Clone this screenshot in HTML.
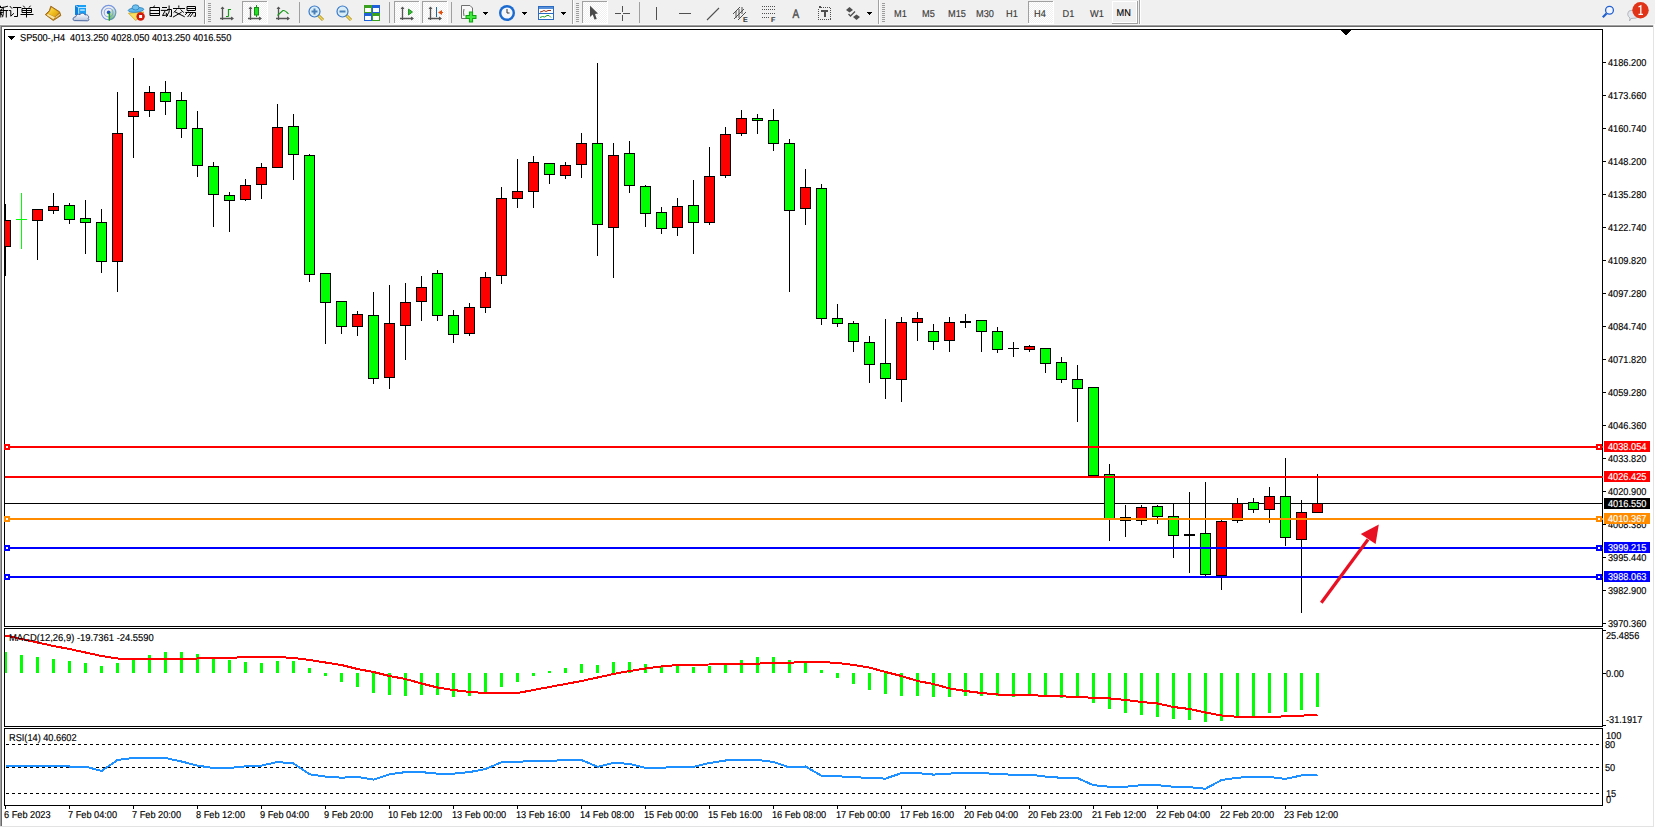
<!DOCTYPE html>
<html><head><meta charset="utf-8"><style>
html,body{margin:0;padding:0;width:1655px;height:828px;overflow:hidden;background:#f0f0f0}
svg{position:absolute;left:0;top:0;display:block}
text{font-family:'Liberation Sans',sans-serif}
</style></head><body>
<svg width="1655" height="828" viewBox="0 0 1655 828" shape-rendering="crispEdges" text-rendering="geometricPrecision">
<rect x="0" y="0" width="1655" height="828" fill="#f0f0f0"/>
<rect x="2" y="27" width="1651" height="799" fill="#fff"/>
<rect x="0" y="24" width="1655" height="1" fill="#f7f7f7"/>
<rect x="0" y="25" width="1654" height="1" fill="#a0a0a0"/>
<rect x="1" y="26" width="1652" height="1" fill="#696969"/>
<rect x="0" y="25" width="1" height="802" fill="#a0a0a0"/>
<rect x="1" y="26" width="1" height="800" fill="#696969"/>
<rect x="1653" y="25" width="1" height="802" fill="#e3e3e3"/>
<rect x="0" y="826" width="1654" height="1" fill="#e3e3e3"/>
<rect x="1654" y="24" width="1" height="804" fill="#ffffff"/>
<rect x="0" y="827" width="1655" height="1" fill="#ffffff"/>
<rect x="4" y="29" width="1599" height="1" fill="#000"/>
<rect x="4" y="626" width="1599" height="1" fill="#000"/>
<rect x="4" y="29" width="1" height="598" fill="#000"/>
<rect x="1602" y="29" width="1" height="598" fill="#000"/>
<rect x="4" y="628" width="1599" height="1" fill="#000"/>
<rect x="4" y="726" width="1599" height="1" fill="#000"/>
<rect x="4" y="628" width="1" height="99" fill="#000"/>
<rect x="1602" y="628" width="1" height="99" fill="#000"/>
<rect x="4" y="728" width="1599" height="1" fill="#000"/>
<rect x="4" y="805" width="1599" height="1" fill="#000"/>
<rect x="4" y="728" width="1" height="78" fill="#000"/>
<rect x="1602" y="728" width="1" height="78" fill="#000"/>
<defs><clipPath id="cm"><rect x="5" y="30" width="1597" height="596"/></clipPath></defs>
<rect x="5" y="503" width="1598" height="1" fill="#000"/>
<g clip-path="url(#cm)">
<rect x="5" y="204" width="1" height="72" fill="#000"/>
<rect x="0" y="220" width="11" height="27" fill="#000"/>
<rect x="1" y="221" width="9" height="25" fill="#ff0000"/>
<rect x="21" y="193" width="1" height="56" fill="#00ff00"/>
<rect x="16" y="219" width="11" height="1" fill="#00ff00"/>
<rect x="37" y="209" width="1" height="51" fill="#000"/>
<rect x="32" y="209" width="11" height="12" fill="#000"/>
<rect x="33" y="210" width="9" height="10" fill="#ff0000"/>
<rect x="53" y="193" width="1" height="21" fill="#000"/>
<rect x="48" y="206" width="11" height="5" fill="#000"/>
<rect x="49" y="207" width="9" height="3" fill="#ff0000"/>
<rect x="69" y="203" width="1" height="21" fill="#000"/>
<rect x="64" y="205" width="11" height="15" fill="#000"/>
<rect x="65" y="206" width="9" height="13" fill="#00ff00"/>
<rect x="85" y="200" width="1" height="54" fill="#000"/>
<rect x="80" y="218" width="11" height="5" fill="#000"/>
<rect x="81" y="219" width="9" height="3" fill="#00ff00"/>
<rect x="101" y="209" width="1" height="64" fill="#000"/>
<rect x="96" y="222" width="11" height="40" fill="#000"/>
<rect x="97" y="223" width="9" height="38" fill="#00ff00"/>
<rect x="117" y="92" width="1" height="200" fill="#000"/>
<rect x="112" y="133" width="11" height="129" fill="#000"/>
<rect x="113" y="134" width="9" height="127" fill="#ff0000"/>
<rect x="133" y="58" width="1" height="100" fill="#000"/>
<rect x="128" y="111" width="11" height="6" fill="#000"/>
<rect x="129" y="112" width="9" height="4" fill="#ff0000"/>
<rect x="149" y="86" width="1" height="31" fill="#000"/>
<rect x="144" y="92" width="11" height="19" fill="#000"/>
<rect x="145" y="93" width="9" height="17" fill="#ff0000"/>
<rect x="165" y="81" width="1" height="34" fill="#000"/>
<rect x="160" y="92" width="11" height="10" fill="#000"/>
<rect x="161" y="93" width="9" height="8" fill="#00ff00"/>
<rect x="181" y="92" width="1" height="46" fill="#000"/>
<rect x="176" y="100" width="11" height="29" fill="#000"/>
<rect x="177" y="101" width="9" height="27" fill="#00ff00"/>
<rect x="197" y="111" width="1" height="66" fill="#000"/>
<rect x="192" y="128" width="11" height="38" fill="#000"/>
<rect x="193" y="129" width="9" height="36" fill="#00ff00"/>
<rect x="213" y="162" width="1" height="65" fill="#000"/>
<rect x="208" y="166" width="11" height="29" fill="#000"/>
<rect x="209" y="167" width="9" height="27" fill="#00ff00"/>
<rect x="229" y="192" width="1" height="40" fill="#000"/>
<rect x="224" y="195" width="11" height="6" fill="#000"/>
<rect x="225" y="196" width="9" height="4" fill="#00ff00"/>
<rect x="245" y="179" width="1" height="22" fill="#000"/>
<rect x="240" y="185" width="11" height="15" fill="#000"/>
<rect x="241" y="186" width="9" height="13" fill="#ff0000"/>
<rect x="261" y="163" width="1" height="36" fill="#000"/>
<rect x="256" y="167" width="11" height="18" fill="#000"/>
<rect x="257" y="168" width="9" height="16" fill="#ff0000"/>
<rect x="277" y="104" width="1" height="64" fill="#000"/>
<rect x="272" y="127" width="11" height="41" fill="#000"/>
<rect x="273" y="128" width="9" height="39" fill="#ff0000"/>
<rect x="293" y="114" width="1" height="66" fill="#000"/>
<rect x="288" y="126" width="11" height="29" fill="#000"/>
<rect x="289" y="127" width="9" height="27" fill="#00ff00"/>
<rect x="309" y="154" width="1" height="128" fill="#000"/>
<rect x="304" y="155" width="11" height="120" fill="#000"/>
<rect x="305" y="156" width="9" height="118" fill="#00ff00"/>
<rect x="325" y="273" width="1" height="71" fill="#000"/>
<rect x="320" y="273" width="11" height="30" fill="#000"/>
<rect x="321" y="274" width="9" height="28" fill="#00ff00"/>
<rect x="341" y="301" width="1" height="33" fill="#000"/>
<rect x="336" y="301" width="11" height="26" fill="#000"/>
<rect x="337" y="302" width="9" height="24" fill="#00ff00"/>
<rect x="357" y="311" width="1" height="25" fill="#000"/>
<rect x="352" y="314" width="11" height="13" fill="#000"/>
<rect x="353" y="315" width="9" height="11" fill="#ff0000"/>
<rect x="373" y="292" width="1" height="92" fill="#000"/>
<rect x="368" y="315" width="11" height="64" fill="#000"/>
<rect x="369" y="316" width="9" height="62" fill="#00ff00"/>
<rect x="389" y="285" width="1" height="104" fill="#000"/>
<rect x="384" y="323" width="11" height="55" fill="#000"/>
<rect x="385" y="324" width="9" height="53" fill="#ff0000"/>
<rect x="405" y="283" width="1" height="77" fill="#000"/>
<rect x="400" y="302" width="11" height="24" fill="#000"/>
<rect x="401" y="303" width="9" height="22" fill="#ff0000"/>
<rect x="421" y="276" width="1" height="45" fill="#000"/>
<rect x="416" y="287" width="11" height="15" fill="#000"/>
<rect x="417" y="288" width="9" height="13" fill="#ff0000"/>
<rect x="437" y="270" width="1" height="51" fill="#000"/>
<rect x="432" y="273" width="11" height="43" fill="#000"/>
<rect x="433" y="274" width="9" height="41" fill="#00ff00"/>
<rect x="453" y="310" width="1" height="33" fill="#000"/>
<rect x="448" y="315" width="11" height="20" fill="#000"/>
<rect x="449" y="316" width="9" height="18" fill="#00ff00"/>
<rect x="469" y="303" width="1" height="33" fill="#000"/>
<rect x="464" y="307" width="11" height="27" fill="#000"/>
<rect x="465" y="308" width="9" height="25" fill="#ff0000"/>
<rect x="485" y="272" width="1" height="41" fill="#000"/>
<rect x="480" y="277" width="11" height="31" fill="#000"/>
<rect x="481" y="278" width="9" height="29" fill="#ff0000"/>
<rect x="501" y="187" width="1" height="97" fill="#000"/>
<rect x="496" y="198" width="11" height="78" fill="#000"/>
<rect x="497" y="199" width="9" height="76" fill="#ff0000"/>
<rect x="517" y="159" width="1" height="49" fill="#000"/>
<rect x="512" y="191" width="11" height="8" fill="#000"/>
<rect x="513" y="192" width="9" height="6" fill="#ff0000"/>
<rect x="533" y="156" width="1" height="52" fill="#000"/>
<rect x="528" y="162" width="11" height="30" fill="#000"/>
<rect x="529" y="163" width="9" height="28" fill="#ff0000"/>
<rect x="549" y="163" width="1" height="21" fill="#000"/>
<rect x="544" y="163" width="11" height="12" fill="#000"/>
<rect x="545" y="164" width="9" height="10" fill="#00ff00"/>
<rect x="565" y="162" width="1" height="17" fill="#000"/>
<rect x="560" y="165" width="11" height="11" fill="#000"/>
<rect x="561" y="166" width="9" height="9" fill="#ff0000"/>
<rect x="581" y="133" width="1" height="45" fill="#000"/>
<rect x="576" y="143" width="11" height="22" fill="#000"/>
<rect x="577" y="144" width="9" height="20" fill="#ff0000"/>
<rect x="597" y="63" width="1" height="193" fill="#000"/>
<rect x="592" y="143" width="11" height="82" fill="#000"/>
<rect x="593" y="144" width="9" height="80" fill="#00ff00"/>
<rect x="613" y="143" width="1" height="135" fill="#000"/>
<rect x="608" y="155" width="11" height="73" fill="#000"/>
<rect x="609" y="156" width="9" height="71" fill="#ff0000"/>
<rect x="629" y="141" width="1" height="52" fill="#000"/>
<rect x="624" y="153" width="11" height="33" fill="#000"/>
<rect x="625" y="154" width="9" height="31" fill="#00ff00"/>
<rect x="645" y="185" width="1" height="42" fill="#000"/>
<rect x="640" y="186" width="11" height="28" fill="#000"/>
<rect x="641" y="187" width="9" height="26" fill="#00ff00"/>
<rect x="661" y="207" width="1" height="27" fill="#000"/>
<rect x="656" y="212" width="11" height="17" fill="#000"/>
<rect x="657" y="213" width="9" height="15" fill="#00ff00"/>
<rect x="677" y="198" width="1" height="38" fill="#000"/>
<rect x="672" y="206" width="11" height="22" fill="#000"/>
<rect x="673" y="207" width="9" height="20" fill="#ff0000"/>
<rect x="693" y="180" width="1" height="74" fill="#000"/>
<rect x="688" y="205" width="11" height="18" fill="#000"/>
<rect x="689" y="206" width="9" height="16" fill="#00ff00"/>
<rect x="709" y="147" width="1" height="78" fill="#000"/>
<rect x="704" y="176" width="11" height="47" fill="#000"/>
<rect x="705" y="177" width="9" height="45" fill="#ff0000"/>
<rect x="725" y="127" width="1" height="51" fill="#000"/>
<rect x="720" y="134" width="11" height="42" fill="#000"/>
<rect x="721" y="135" width="9" height="40" fill="#ff0000"/>
<rect x="741" y="110" width="1" height="26" fill="#000"/>
<rect x="736" y="118" width="11" height="16" fill="#000"/>
<rect x="737" y="119" width="9" height="14" fill="#ff0000"/>
<rect x="757" y="114" width="1" height="20" fill="#000"/>
<rect x="752" y="118" width="11" height="3" fill="#000"/>
<rect x="753" y="119" width="9" height="1" fill="#00ff00"/>
<rect x="773" y="109" width="1" height="42" fill="#000"/>
<rect x="768" y="120" width="11" height="24" fill="#000"/>
<rect x="769" y="121" width="9" height="22" fill="#00ff00"/>
<rect x="789" y="139" width="1" height="153" fill="#000"/>
<rect x="784" y="143" width="11" height="68" fill="#000"/>
<rect x="785" y="144" width="9" height="66" fill="#00ff00"/>
<rect x="805" y="169" width="1" height="56" fill="#000"/>
<rect x="800" y="187" width="11" height="22" fill="#000"/>
<rect x="801" y="188" width="9" height="20" fill="#ff0000"/>
<rect x="821" y="184" width="1" height="141" fill="#000"/>
<rect x="816" y="188" width="11" height="131" fill="#000"/>
<rect x="817" y="189" width="9" height="129" fill="#00ff00"/>
<rect x="837" y="304" width="1" height="23" fill="#000"/>
<rect x="832" y="318" width="11" height="6" fill="#000"/>
<rect x="833" y="319" width="9" height="4" fill="#00ff00"/>
<rect x="853" y="321" width="1" height="31" fill="#000"/>
<rect x="848" y="323" width="11" height="19" fill="#000"/>
<rect x="849" y="324" width="9" height="17" fill="#00ff00"/>
<rect x="869" y="336" width="1" height="47" fill="#000"/>
<rect x="864" y="342" width="11" height="23" fill="#000"/>
<rect x="865" y="343" width="9" height="21" fill="#00ff00"/>
<rect x="885" y="319" width="1" height="80" fill="#000"/>
<rect x="880" y="363" width="11" height="16" fill="#000"/>
<rect x="881" y="364" width="9" height="14" fill="#00ff00"/>
<rect x="901" y="317" width="1" height="85" fill="#000"/>
<rect x="896" y="322" width="11" height="58" fill="#000"/>
<rect x="897" y="323" width="9" height="56" fill="#ff0000"/>
<rect x="917" y="312" width="1" height="29" fill="#000"/>
<rect x="912" y="318" width="11" height="5" fill="#000"/>
<rect x="913" y="319" width="9" height="3" fill="#ff0000"/>
<rect x="933" y="324" width="1" height="26" fill="#000"/>
<rect x="928" y="331" width="11" height="11" fill="#000"/>
<rect x="929" y="332" width="9" height="9" fill="#00ff00"/>
<rect x="949" y="317" width="1" height="35" fill="#000"/>
<rect x="944" y="322" width="11" height="19" fill="#000"/>
<rect x="945" y="323" width="9" height="17" fill="#ff0000"/>
<rect x="965" y="314" width="1" height="14" fill="#000"/>
<rect x="960" y="321" width="11" height="2" fill="#000"/>
<rect x="981" y="320" width="1" height="32" fill="#000"/>
<rect x="976" y="320" width="11" height="12" fill="#000"/>
<rect x="977" y="321" width="9" height="10" fill="#00ff00"/>
<rect x="997" y="327" width="1" height="26" fill="#000"/>
<rect x="992" y="331" width="11" height="19" fill="#000"/>
<rect x="993" y="332" width="9" height="17" fill="#00ff00"/>
<rect x="1013" y="342" width="1" height="15" fill="#000"/>
<rect x="1008" y="348" width="11" height="1" fill="#000"/>
<rect x="1029" y="345" width="1" height="7" fill="#000"/>
<rect x="1024" y="346" width="11" height="4" fill="#000"/>
<rect x="1025" y="347" width="9" height="2" fill="#ff0000"/>
<rect x="1045" y="348" width="1" height="25" fill="#000"/>
<rect x="1040" y="348" width="11" height="16" fill="#000"/>
<rect x="1041" y="349" width="9" height="14" fill="#00ff00"/>
<rect x="1061" y="357" width="1" height="26" fill="#000"/>
<rect x="1056" y="362" width="11" height="18" fill="#000"/>
<rect x="1057" y="363" width="9" height="16" fill="#00ff00"/>
<rect x="1077" y="365" width="1" height="57" fill="#000"/>
<rect x="1072" y="379" width="11" height="10" fill="#000"/>
<rect x="1073" y="380" width="9" height="8" fill="#00ff00"/>
<rect x="1093" y="387" width="1" height="89" fill="#000"/>
<rect x="1088" y="387" width="11" height="89" fill="#000"/>
<rect x="1089" y="388" width="9" height="87" fill="#00ff00"/>
<rect x="1109" y="464" width="1" height="77" fill="#000"/>
<rect x="1104" y="474" width="11" height="45" fill="#000"/>
<rect x="1105" y="475" width="9" height="43" fill="#00ff00"/>
<rect x="1125" y="505" width="1" height="32" fill="#000"/>
<rect x="1120" y="517" width="11" height="4" fill="#000"/>
<rect x="1121" y="518" width="9" height="2" fill="#00ff00"/>
<rect x="1141" y="505" width="1" height="20" fill="#000"/>
<rect x="1136" y="507" width="11" height="14" fill="#000"/>
<rect x="1137" y="508" width="9" height="12" fill="#ff0000"/>
<rect x="1157" y="505" width="1" height="19" fill="#000"/>
<rect x="1152" y="506" width="11" height="11" fill="#000"/>
<rect x="1153" y="507" width="9" height="9" fill="#00ff00"/>
<rect x="1173" y="503" width="1" height="55" fill="#000"/>
<rect x="1168" y="516" width="11" height="20" fill="#000"/>
<rect x="1169" y="517" width="9" height="18" fill="#00ff00"/>
<rect x="1189" y="492" width="1" height="81" fill="#000"/>
<rect x="1184" y="534" width="11" height="2" fill="#000"/>
<rect x="1205" y="482" width="1" height="95" fill="#000"/>
<rect x="1200" y="533" width="11" height="42" fill="#000"/>
<rect x="1201" y="534" width="9" height="40" fill="#00ff00"/>
<rect x="1221" y="520" width="1" height="70" fill="#000"/>
<rect x="1216" y="521" width="11" height="55" fill="#000"/>
<rect x="1217" y="522" width="9" height="53" fill="#ff0000"/>
<rect x="1237" y="498" width="1" height="25" fill="#000"/>
<rect x="1232" y="503" width="11" height="18" fill="#000"/>
<rect x="1233" y="504" width="9" height="16" fill="#ff0000"/>
<rect x="1253" y="498" width="1" height="15" fill="#000"/>
<rect x="1248" y="502" width="11" height="8" fill="#000"/>
<rect x="1249" y="503" width="9" height="6" fill="#00ff00"/>
<rect x="1269" y="487" width="1" height="36" fill="#000"/>
<rect x="1264" y="496" width="11" height="14" fill="#000"/>
<rect x="1265" y="497" width="9" height="12" fill="#ff0000"/>
<rect x="1285" y="458" width="1" height="88" fill="#000"/>
<rect x="1280" y="496" width="11" height="42" fill="#000"/>
<rect x="1281" y="497" width="9" height="40" fill="#00ff00"/>
<rect x="1301" y="500" width="1" height="113" fill="#000"/>
<rect x="1296" y="512" width="11" height="28" fill="#000"/>
<rect x="1297" y="513" width="9" height="26" fill="#ff0000"/>
<rect x="1317" y="474" width="1" height="39" fill="#000"/>
<rect x="1312" y="503" width="11" height="10" fill="#000"/>
<rect x="1313" y="504" width="9" height="8" fill="#ff0000"/>
</g>
<rect x="5" y="446" width="1598" height="2" fill="#ff0000"/>
<rect x="4" y="444" width="6" height="6" fill="#ff0000"/>
<rect x="6" y="446" width="2" height="2" fill="#fff"/>
<rect x="1596" y="444" width="6" height="6" fill="#ff0000"/>
<rect x="1598" y="446" width="2" height="2" fill="#fff"/>
<rect x="5" y="476" width="1598" height="2" fill="#ff0000"/>
<rect x="5" y="518" width="1598" height="2" fill="#ff8c00"/>
<rect x="4" y="516" width="6" height="6" fill="#ff8c00"/>
<rect x="6" y="518" width="2" height="2" fill="#fff"/>
<rect x="1596" y="516" width="6" height="6" fill="#ff8c00"/>
<rect x="1598" y="518" width="2" height="2" fill="#fff"/>
<rect x="5" y="547" width="1598" height="2" fill="#0000ff"/>
<rect x="4" y="545" width="6" height="6" fill="#0000ff"/>
<rect x="6" y="547" width="2" height="2" fill="#fff"/>
<rect x="1596" y="545" width="6" height="6" fill="#0000ff"/>
<rect x="1598" y="547" width="2" height="2" fill="#fff"/>
<rect x="5" y="576" width="1598" height="2" fill="#0000ff"/>
<rect x="4" y="574" width="6" height="6" fill="#0000ff"/>
<rect x="6" y="576" width="2" height="2" fill="#fff"/>
<rect x="1596" y="574" width="6" height="6" fill="#0000ff"/>
<rect x="1598" y="576" width="2" height="2" fill="#fff"/>
<line x1="1321.3" y1="602.8" x2="1368" y2="539.5" stroke="#e81123" stroke-width="3.2" shape-rendering="geometricPrecision"/>
<polygon points="1378.8,524.5 1360.8,534 1375.6,544" fill="#e81123" shape-rendering="geometricPrecision"/>
<polygon points="1340.5,30 1351.5,30 1346,35.5" fill="#000"/>
<polygon points="8,36 15,36 11.5,40" fill="#000"/>
<text transform="translate(20,41) scale(0.92,1)" font-size="10" fill="#000" stroke="#000" stroke-width="0.15" xml:space="preserve" >SP500-,H4  4013.250 4028.050 4013.250 4016.550</text>
<rect x="1603" y="62" width="3" height="1" fill="#000"/>
<text transform="translate(1608,66) scale(0.92,1)" font-size="10" fill="#000" stroke="#000" stroke-width="0.15" xml:space="preserve" >4186.200</text>
<rect x="1603" y="95" width="3" height="1" fill="#000"/>
<text transform="translate(1608,99) scale(0.92,1)" font-size="10" fill="#000" stroke="#000" stroke-width="0.15" xml:space="preserve" >4173.660</text>
<rect x="1603" y="128" width="3" height="1" fill="#000"/>
<text transform="translate(1608,132) scale(0.92,1)" font-size="10" fill="#000" stroke="#000" stroke-width="0.15" xml:space="preserve" >4160.740</text>
<rect x="1603" y="161" width="3" height="1" fill="#000"/>
<text transform="translate(1608,165) scale(0.92,1)" font-size="10" fill="#000" stroke="#000" stroke-width="0.15" xml:space="preserve" >4148.200</text>
<rect x="1603" y="194" width="3" height="1" fill="#000"/>
<text transform="translate(1608,198) scale(0.92,1)" font-size="10" fill="#000" stroke="#000" stroke-width="0.15" xml:space="preserve" >4135.280</text>
<rect x="1603" y="227" width="3" height="1" fill="#000"/>
<text transform="translate(1608,231) scale(0.92,1)" font-size="10" fill="#000" stroke="#000" stroke-width="0.15" xml:space="preserve" >4122.740</text>
<rect x="1603" y="260" width="3" height="1" fill="#000"/>
<text transform="translate(1608,264) scale(0.92,1)" font-size="10" fill="#000" stroke="#000" stroke-width="0.15" xml:space="preserve" >4109.820</text>
<rect x="1603" y="293" width="3" height="1" fill="#000"/>
<text transform="translate(1608,297) scale(0.92,1)" font-size="10" fill="#000" stroke="#000" stroke-width="0.15" xml:space="preserve" >4097.280</text>
<rect x="1603" y="326" width="3" height="1" fill="#000"/>
<text transform="translate(1608,330) scale(0.92,1)" font-size="10" fill="#000" stroke="#000" stroke-width="0.15" xml:space="preserve" >4084.740</text>
<rect x="1603" y="359" width="3" height="1" fill="#000"/>
<text transform="translate(1608,363) scale(0.92,1)" font-size="10" fill="#000" stroke="#000" stroke-width="0.15" xml:space="preserve" >4071.820</text>
<rect x="1603" y="392" width="3" height="1" fill="#000"/>
<text transform="translate(1608,396) scale(0.92,1)" font-size="10" fill="#000" stroke="#000" stroke-width="0.15" xml:space="preserve" >4059.280</text>
<rect x="1603" y="425" width="3" height="1" fill="#000"/>
<text transform="translate(1608,429) scale(0.92,1)" font-size="10" fill="#000" stroke="#000" stroke-width="0.15" xml:space="preserve" >4046.360</text>
<rect x="1603" y="458" width="3" height="1" fill="#000"/>
<text transform="translate(1608,462) scale(0.92,1)" font-size="10" fill="#000" stroke="#000" stroke-width="0.15" xml:space="preserve" >4033.820</text>
<rect x="1603" y="491" width="3" height="1" fill="#000"/>
<text transform="translate(1608,495) scale(0.92,1)" font-size="10" fill="#000" stroke="#000" stroke-width="0.15" xml:space="preserve" >4020.900</text>
<rect x="1603" y="524" width="3" height="1" fill="#000"/>
<text transform="translate(1608,528) scale(0.92,1)" font-size="10" fill="#000" stroke="#000" stroke-width="0.15" xml:space="preserve" >4008.380</text>
<rect x="1603" y="557" width="3" height="1" fill="#000"/>
<text transform="translate(1608,561) scale(0.92,1)" font-size="10" fill="#000" stroke="#000" stroke-width="0.15" xml:space="preserve" >3995.440</text>
<rect x="1603" y="590" width="3" height="1" fill="#000"/>
<text transform="translate(1608,594) scale(0.92,1)" font-size="10" fill="#000" stroke="#000" stroke-width="0.15" xml:space="preserve" >3982.900</text>
<rect x="1603" y="623" width="3" height="1" fill="#000"/>
<text transform="translate(1608,627) scale(0.92,1)" font-size="10" fill="#000" stroke="#000" stroke-width="0.15" xml:space="preserve" >3970.360</text>
<rect x="1604" y="441" width="46" height="11" fill="#ff0000"/>
<text transform="translate(1608,450) scale(0.92,1)" font-size="10" fill="#fff" stroke="#fff" stroke-width="0.15" xml:space="preserve" >4038.054</text>
<rect x="1604" y="471" width="46" height="11" fill="#ff0000"/>
<text transform="translate(1608,480) scale(0.92,1)" font-size="10" fill="#fff" stroke="#fff" stroke-width="0.15" xml:space="preserve" >4026.425</text>
<rect x="1604" y="498" width="46" height="11" fill="#000000"/>
<text transform="translate(1608,507) scale(0.92,1)" font-size="10" fill="#fff" stroke="#fff" stroke-width="0.15" xml:space="preserve" >4016.550</text>
<rect x="1604" y="513" width="46" height="11" fill="#ff8c00"/>
<text transform="translate(1608,522) scale(0.92,1)" font-size="10" fill="#fff" stroke="#fff" stroke-width="0.15" xml:space="preserve" >4010.367</text>
<rect x="1604" y="542" width="46" height="11" fill="#0000ff"/>
<text transform="translate(1608,551) scale(0.92,1)" font-size="10" fill="#fff" stroke="#fff" stroke-width="0.15" xml:space="preserve" >3999.215</text>
<rect x="1604" y="571" width="46" height="11" fill="#0000ff"/>
<text transform="translate(1608,580) scale(0.92,1)" font-size="10" fill="#fff" stroke="#fff" stroke-width="0.15" xml:space="preserve" >3988.063</text>
<defs><clipPath id="cmacd"><rect x="5" y="629" width="1597" height="97"/></clipPath></defs>
<g clip-path="url(#cmacd)">
<rect x="4" y="652" width="3" height="21" fill="#00ff00"/>
<rect x="20" y="655" width="3" height="18" fill="#00ff00"/>
<rect x="36" y="657" width="3" height="16" fill="#00ff00"/>
<rect x="52" y="659" width="3" height="14" fill="#00ff00"/>
<rect x="68" y="661" width="3" height="12" fill="#00ff00"/>
<rect x="84" y="663" width="3" height="10" fill="#00ff00"/>
<rect x="100" y="666" width="3" height="7" fill="#00ff00"/>
<rect x="116" y="663" width="3" height="10" fill="#00ff00"/>
<rect x="132" y="660" width="3" height="13" fill="#00ff00"/>
<rect x="148" y="655" width="3" height="18" fill="#00ff00"/>
<rect x="164" y="652" width="3" height="21" fill="#00ff00"/>
<rect x="180" y="652" width="3" height="21" fill="#00ff00"/>
<rect x="196" y="654" width="3" height="19" fill="#00ff00"/>
<rect x="212" y="659" width="3" height="14" fill="#00ff00"/>
<rect x="228" y="660" width="3" height="13" fill="#00ff00"/>
<rect x="244" y="662" width="3" height="11" fill="#00ff00"/>
<rect x="260" y="663" width="3" height="10" fill="#00ff00"/>
<rect x="276" y="661" width="3" height="12" fill="#00ff00"/>
<rect x="292" y="661" width="3" height="12" fill="#00ff00"/>
<rect x="308" y="668" width="3" height="5" fill="#00ff00"/>
<rect x="324" y="673" width="3" height="3" fill="#00ff00"/>
<rect x="340" y="673" width="3" height="9" fill="#00ff00"/>
<rect x="356" y="673" width="3" height="14" fill="#00ff00"/>
<rect x="372" y="673" width="3" height="20" fill="#00ff00"/>
<rect x="388" y="673" width="3" height="22" fill="#00ff00"/>
<rect x="404" y="673" width="3" height="23" fill="#00ff00"/>
<rect x="420" y="673" width="3" height="22" fill="#00ff00"/>
<rect x="436" y="673" width="3" height="22" fill="#00ff00"/>
<rect x="452" y="673" width="3" height="24" fill="#00ff00"/>
<rect x="468" y="673" width="3" height="23" fill="#00ff00"/>
<rect x="484" y="673" width="3" height="19" fill="#00ff00"/>
<rect x="500" y="673" width="3" height="14" fill="#00ff00"/>
<rect x="516" y="673" width="3" height="9" fill="#00ff00"/>
<rect x="532" y="673" width="3" height="3" fill="#00ff00"/>
<rect x="548" y="671" width="3" height="2" fill="#00ff00"/>
<rect x="564" y="668" width="3" height="5" fill="#00ff00"/>
<rect x="580" y="664" width="3" height="9" fill="#00ff00"/>
<rect x="596" y="665" width="3" height="8" fill="#00ff00"/>
<rect x="612" y="662" width="3" height="11" fill="#00ff00"/>
<rect x="628" y="662" width="3" height="11" fill="#00ff00"/>
<rect x="644" y="664" width="3" height="9" fill="#00ff00"/>
<rect x="660" y="666" width="3" height="7" fill="#00ff00"/>
<rect x="676" y="666" width="3" height="7" fill="#00ff00"/>
<rect x="692" y="667" width="3" height="6" fill="#00ff00"/>
<rect x="708" y="666" width="3" height="7" fill="#00ff00"/>
<rect x="724" y="663" width="3" height="10" fill="#00ff00"/>
<rect x="740" y="660" width="3" height="13" fill="#00ff00"/>
<rect x="756" y="657" width="3" height="16" fill="#00ff00"/>
<rect x="772" y="657" width="3" height="16" fill="#00ff00"/>
<rect x="788" y="660" width="3" height="13" fill="#00ff00"/>
<rect x="804" y="663" width="3" height="10" fill="#00ff00"/>
<rect x="820" y="670" width="3" height="3" fill="#00ff00"/>
<rect x="836" y="673" width="3" height="5" fill="#00ff00"/>
<rect x="852" y="673" width="3" height="11" fill="#00ff00"/>
<rect x="868" y="673" width="3" height="17" fill="#00ff00"/>
<rect x="884" y="673" width="3" height="21" fill="#00ff00"/>
<rect x="900" y="673" width="3" height="23" fill="#00ff00"/>
<rect x="916" y="673" width="3" height="23" fill="#00ff00"/>
<rect x="932" y="673" width="3" height="24" fill="#00ff00"/>
<rect x="948" y="673" width="3" height="24" fill="#00ff00"/>
<rect x="964" y="673" width="3" height="23" fill="#00ff00"/>
<rect x="980" y="673" width="3" height="23" fill="#00ff00"/>
<rect x="996" y="673" width="3" height="23" fill="#00ff00"/>
<rect x="1012" y="673" width="3" height="24" fill="#00ff00"/>
<rect x="1028" y="673" width="3" height="22" fill="#00ff00"/>
<rect x="1044" y="673" width="3" height="24" fill="#00ff00"/>
<rect x="1060" y="673" width="3" height="25" fill="#00ff00"/>
<rect x="1076" y="673" width="3" height="25" fill="#00ff00"/>
<rect x="1092" y="673" width="3" height="30" fill="#00ff00"/>
<rect x="1108" y="673" width="3" height="36" fill="#00ff00"/>
<rect x="1124" y="673" width="3" height="40" fill="#00ff00"/>
<rect x="1140" y="673" width="3" height="42" fill="#00ff00"/>
<rect x="1156" y="673" width="3" height="44" fill="#00ff00"/>
<rect x="1172" y="673" width="3" height="46" fill="#00ff00"/>
<rect x="1188" y="673" width="3" height="47" fill="#00ff00"/>
<rect x="1204" y="673" width="3" height="49" fill="#00ff00"/>
<rect x="1220" y="673" width="3" height="48" fill="#00ff00"/>
<rect x="1236" y="673" width="3" height="45" fill="#00ff00"/>
<rect x="1252" y="673" width="3" height="43" fill="#00ff00"/>
<rect x="1268" y="673" width="3" height="40" fill="#00ff00"/>
<rect x="1284" y="673" width="3" height="39" fill="#00ff00"/>
<rect x="1300" y="673" width="3" height="37" fill="#00ff00"/>
<rect x="1316" y="673" width="3" height="34" fill="#00ff00"/>
<polyline points="5.5,635.5 21.5,639 37.5,642.5 53.5,646 69.5,649 85.5,652.5 101.5,656 117.5,658.5 133.5,659 149.5,659 165.5,659 181.5,659 197.5,658.5 213.5,658 229.5,658 245.5,657 261.5,657 277.5,657 293.5,658 309.5,660 325.5,662.5 341.5,665 357.5,669 373.5,672 389.5,676 405.5,679 421.5,683.5 437.5,687.5 453.5,690 469.5,692 485.5,693 501.5,693 517.5,693 533.5,690 549.5,687 565.5,684 581.5,681 597.5,677.5 613.5,674 629.5,671 645.5,668.5 661.5,666.5 677.5,665 693.5,664.7 709.5,664.5 725.5,664 741.5,664 757.5,663.6 773.5,663 789.5,662.7 805.5,662 821.5,662 837.5,663 853.5,665 869.5,667.6 885.5,672 901.5,676 917.5,681 933.5,684 949.5,688.4 965.5,691 981.5,693 997.5,694.5 1013.5,695 1029.5,695 1045.5,696 1061.5,696.3 1077.5,697 1093.5,697.8 1109.5,698.4 1125.5,700 1141.5,702 1157.5,703.5 1173.5,707 1189.5,709 1205.5,712.5 1221.5,715.5 1237.5,716.8 1253.5,716.8 1269.5,716.8 1285.5,716.4 1301.5,715.6 1317.5,715" fill="none" stroke="#ff0000" stroke-width="2" shape-rendering="crispEdges"/>
</g>
<text transform="translate(9,641) scale(0.94,1)" font-size="10" fill="#000" stroke="#000" stroke-width="0.15" xml:space="preserve" >MACD(12,26,9) -19.7361 -24.5590</text>
<rect x="1603" y="630" width="3" height="1" fill="#000"/>
<text transform="translate(1606,639) scale(0.92,1)" font-size="10" fill="#000" stroke="#000" stroke-width="0.15" xml:space="preserve" >25.4856</text>
<rect x="1603" y="673" width="3" height="1" fill="#000"/>
<text transform="translate(1606,677) scale(0.92,1)" font-size="10" fill="#000" stroke="#000" stroke-width="0.15" xml:space="preserve" >0.00</text>
<rect x="1603" y="725" width="3" height="1" fill="#000"/>
<text transform="translate(1606,723) scale(0.92,1)" font-size="10" fill="#000" stroke="#000" stroke-width="0.15" xml:space="preserve" >-31.1917</text>
<line x1="6" y1="744.5" x2="1601" y2="744.5" stroke="#000" stroke-width="1" stroke-dasharray="3,3" shape-rendering="crispEdges"/>
<line x1="6" y1="767.5" x2="1601" y2="767.5" stroke="#000" stroke-width="1" stroke-dasharray="3,3" shape-rendering="crispEdges"/>
<line x1="6" y1="793.5" x2="1601" y2="793.5" stroke="#000" stroke-width="1" stroke-dasharray="3,3" shape-rendering="crispEdges"/>
<defs><clipPath id="crsi"><rect x="5" y="729" width="1597" height="76"/></clipPath></defs>
<g clip-path="url(#crsi)"><polyline points="5.5,766 21.5,766 37.5,766 53.5,766 69.5,766.5 85.5,766.5 101.5,771 117.5,760 133.5,758 149.5,757.7 165.5,758 181.5,761.5 197.5,765.6 213.5,768 229.5,768 245.5,766.3 261.5,765.6 277.5,762 293.5,763.5 309.5,774.3 325.5,776.6 341.5,777.7 357.5,776.9 373.5,779.6 389.5,774.3 405.5,772.1 421.5,772.1 437.5,773.7 453.5,773.7 469.5,772.1 485.5,769 501.5,762.3 517.5,761.8 533.5,761 549.5,761 565.5,760 581.5,760 597.5,766.8 613.5,763 629.5,763.8 645.5,767.8 661.5,767.8 677.5,766.8 693.5,766.8 709.5,763 725.5,760.5 741.5,760 757.5,760 773.5,762 789.5,767.5 805.5,766.5 821.5,775.8 837.5,776.3 853.5,777 869.5,778.1 885.5,778.6 901.5,773.1 917.5,773.1 933.5,774.6 949.5,773.6 965.5,772.8 981.5,772.8 997.5,774.3 1013.5,774.6 1029.5,774.6 1045.5,776.6 1061.5,777.8 1077.5,778.1 1093.5,785.2 1109.5,786.7 1125.5,786.7 1141.5,785.2 1157.5,785.2 1173.5,786.7 1189.5,787.2 1205.5,788.7 1221.5,780.1 1237.5,777.7 1253.5,776.9 1269.5,776.9 1285.5,778.9 1301.5,775.4 1317.5,774.8" fill="none" stroke="#1e90ff" stroke-width="2" shape-rendering="crispEdges"/></g>
<text transform="translate(9,741) scale(0.92,1)" font-size="10" fill="#000" stroke="#000" stroke-width="0.15" xml:space="preserve" >RSI(14) 40.6602</text>
<text transform="translate(1606,739) scale(0.92,1)" font-size="10" fill="#000" stroke="#000" stroke-width="0.15" xml:space="preserve" >100</text>
<text transform="translate(1605,748) scale(0.92,1)" font-size="10" fill="#000" stroke="#000" stroke-width="0.15" xml:space="preserve" >80</text>
<text transform="translate(1605,771) scale(0.92,1)" font-size="10" fill="#000" stroke="#000" stroke-width="0.15" xml:space="preserve" >50</text>
<text transform="translate(1606,797) scale(0.92,1)" font-size="10" fill="#000" stroke="#000" stroke-width="0.15" xml:space="preserve" >15</text>
<text transform="translate(1606,803) scale(0.92,1)" font-size="10" fill="#000" stroke="#000" stroke-width="0.15" xml:space="preserve" >0</text>
<rect x="5" y="806" width="1" height="3" fill="#000"/>
<text transform="translate(4,818) scale(0.92,1)" font-size="10" fill="#000" stroke="#000" stroke-width="0.15" xml:space="preserve" >6 Feb 2023</text>
<rect x="69" y="806" width="1" height="3" fill="#000"/>
<text transform="translate(68,818) scale(0.92,1)" font-size="10" fill="#000" stroke="#000" stroke-width="0.15" xml:space="preserve" >7 Feb 04:00</text>
<rect x="133" y="806" width="1" height="3" fill="#000"/>
<text transform="translate(132,818) scale(0.92,1)" font-size="10" fill="#000" stroke="#000" stroke-width="0.15" xml:space="preserve" >7 Feb 20:00</text>
<rect x="197" y="806" width="1" height="3" fill="#000"/>
<text transform="translate(196,818) scale(0.92,1)" font-size="10" fill="#000" stroke="#000" stroke-width="0.15" xml:space="preserve" >8 Feb 12:00</text>
<rect x="261" y="806" width="1" height="3" fill="#000"/>
<text transform="translate(260,818) scale(0.92,1)" font-size="10" fill="#000" stroke="#000" stroke-width="0.15" xml:space="preserve" >9 Feb 04:00</text>
<rect x="325" y="806" width="1" height="3" fill="#000"/>
<text transform="translate(324,818) scale(0.92,1)" font-size="10" fill="#000" stroke="#000" stroke-width="0.15" xml:space="preserve" >9 Feb 20:00</text>
<rect x="389" y="806" width="1" height="3" fill="#000"/>
<text transform="translate(388,818) scale(0.92,1)" font-size="10" fill="#000" stroke="#000" stroke-width="0.15" xml:space="preserve" >10 Feb 12:00</text>
<rect x="453" y="806" width="1" height="3" fill="#000"/>
<text transform="translate(452,818) scale(0.92,1)" font-size="10" fill="#000" stroke="#000" stroke-width="0.15" xml:space="preserve" >13 Feb 00:00</text>
<rect x="517" y="806" width="1" height="3" fill="#000"/>
<text transform="translate(516,818) scale(0.92,1)" font-size="10" fill="#000" stroke="#000" stroke-width="0.15" xml:space="preserve" >13 Feb 16:00</text>
<rect x="581" y="806" width="1" height="3" fill="#000"/>
<text transform="translate(580,818) scale(0.92,1)" font-size="10" fill="#000" stroke="#000" stroke-width="0.15" xml:space="preserve" >14 Feb 08:00</text>
<rect x="645" y="806" width="1" height="3" fill="#000"/>
<text transform="translate(644,818) scale(0.92,1)" font-size="10" fill="#000" stroke="#000" stroke-width="0.15" xml:space="preserve" >15 Feb 00:00</text>
<rect x="709" y="806" width="1" height="3" fill="#000"/>
<text transform="translate(708,818) scale(0.92,1)" font-size="10" fill="#000" stroke="#000" stroke-width="0.15" xml:space="preserve" >15 Feb 16:00</text>
<rect x="773" y="806" width="1" height="3" fill="#000"/>
<text transform="translate(772,818) scale(0.92,1)" font-size="10" fill="#000" stroke="#000" stroke-width="0.15" xml:space="preserve" >16 Feb 08:00</text>
<rect x="837" y="806" width="1" height="3" fill="#000"/>
<text transform="translate(836,818) scale(0.92,1)" font-size="10" fill="#000" stroke="#000" stroke-width="0.15" xml:space="preserve" >17 Feb 00:00</text>
<rect x="901" y="806" width="1" height="3" fill="#000"/>
<text transform="translate(900,818) scale(0.92,1)" font-size="10" fill="#000" stroke="#000" stroke-width="0.15" xml:space="preserve" >17 Feb 16:00</text>
<rect x="965" y="806" width="1" height="3" fill="#000"/>
<text transform="translate(964,818) scale(0.92,1)" font-size="10" fill="#000" stroke="#000" stroke-width="0.15" xml:space="preserve" >20 Feb 04:00</text>
<rect x="1029" y="806" width="1" height="3" fill="#000"/>
<text transform="translate(1028,818) scale(0.92,1)" font-size="10" fill="#000" stroke="#000" stroke-width="0.15" xml:space="preserve" >20 Feb 23:00</text>
<rect x="1093" y="806" width="1" height="3" fill="#000"/>
<text transform="translate(1092,818) scale(0.92,1)" font-size="10" fill="#000" stroke="#000" stroke-width="0.15" xml:space="preserve" >21 Feb 12:00</text>
<rect x="1157" y="806" width="1" height="3" fill="#000"/>
<text transform="translate(1156,818) scale(0.92,1)" font-size="10" fill="#000" stroke="#000" stroke-width="0.15" xml:space="preserve" >22 Feb 04:00</text>
<rect x="1221" y="806" width="1" height="3" fill="#000"/>
<text transform="translate(1220,818) scale(0.92,1)" font-size="10" fill="#000" stroke="#000" stroke-width="0.15" xml:space="preserve" >22 Feb 20:00</text>
<rect x="1285" y="806" width="1" height="3" fill="#000"/>
<text transform="translate(1284,818) scale(0.92,1)" font-size="10" fill="#000" stroke="#000" stroke-width="0.15" xml:space="preserve" >23 Feb 12:00</text>
<path transform="translate(0,0)" d="M0.5 6.3V7 M-1 7.5H2.5 M-0.5 8.8L0 9.8 M2 8.8L1.5 9.8 M-1 10.5H2.3 M-1 12.5H2.3 M0.8 10.5V17 M0.8 13.5L-1 16 M0.8 13.5L2.3 15.3 M7.5 6.3L3.6 7.3 M3.3 7.3V13.5L2.7 16.7 M3.3 10.5H7.8 M6.3 10.5V17" fill="none" stroke="#000" stroke-width="1" shape-rendering="geometricPrecision" stroke-linecap="square"/>
<path transform="translate(0,0)" d="M10.2 6.5L11.6 8.2 M9.6 10.5H10.8V16.2L13.6 13.6 M13.4 7.5H20.8 M17.5 7.5V16.5H14.6" fill="none" stroke="#000" stroke-width="1" shape-rendering="geometricPrecision" stroke-linecap="square"/>
<path transform="translate(0,0)" d="M23.6 6.1L24.5 7.2 M30.2 6.1L29.3 7.2 M22.5 8.5H31.5V12.5H22.5Z M22.5 10.5H31.5 M26.5 8.5V17 M21 14.5H33" fill="none" stroke="#000" stroke-width="1" shape-rendering="geometricPrecision" stroke-linecap="square"/>
<path transform="translate(0,0)" d="M154.3 6L153.6 7.2 M150.5 7.5H159.5V15.5H150.5Z M150.5 10.5H159.5 M150.5 13.5H159.5" fill="none" stroke="#000" stroke-width="1" shape-rendering="geometricPrecision" stroke-linecap="square"/>
<path transform="translate(0,0)" d="M162.5 7.5H166.5 M161.3 10.4H167.3 M164.9 11.2L162.5 15.6L167 15 M166.2 13.2L167.3 15.6 M167.6 9.5H171.5V16.5L170 16.2 M169.1 6V12L166.4 16.6" fill="none" stroke="#000" stroke-width="1" shape-rendering="geometricPrecision" stroke-linecap="square"/>
<path transform="translate(0,0)" d="M178.8 6V7.2 M173.5 8.5H184.5 M176.4 9.9L174 12.2 M180.9 9.9L183.4 12.2 M175.2 12L184.3 16.6 M181.2 12.4L173.4 16.9" fill="none" stroke="#000" stroke-width="1" shape-rendering="geometricPrecision" stroke-linecap="square"/>
<path transform="translate(0,0)" d="M187.5 6.5H195.5V10.5H187.5Z M187.5 8.5H195.5 M185.8 12.5H195.5V16.4L194 16.2 M187.9 12L185.5 14.5 M190.9 12.7L187.9 16.6 M193.3 12.7L190.3 16.6" fill="none" stroke="#000" stroke-width="1" shape-rendering="geometricPrecision" stroke-linecap="square"/>
<defs><pattern id="chk" x="0" y="0" width="2" height="2" patternUnits="userSpaceOnUse"><rect width="2" height="2" fill="#f0f0f0"/><rect width="1" height="1" fill="#fff"/><rect x="1" y="1" width="1" height="1" fill="#fff"/></pattern></defs>
<defs><linearGradient id="gold" x1="0" y1="0" x2="1" y2="1"><stop offset="0" stop-color="#ffe870"/><stop offset="0.5" stop-color="#f0c020"/><stop offset="1" stop-color="#d89a10"/></linearGradient><linearGradient id="cloudg" x1="0" y1="0" x2="0" y2="1"><stop offset="0" stop-color="#ffffff"/><stop offset="1" stop-color="#b8c4dc"/></linearGradient><linearGradient id="sig" x1="0" y1="0" x2="0" y2="1"><stop offset="0" stop-color="#e0f0e0"/><stop offset="1" stop-color="#40a840"/></linearGradient></defs>
<g shape-rendering="geometricPrecision"><path d="M45.3 14.6 L49.3 10.8 L50.8 6.2 L59.6 11.8 L60.8 15.6 L53.3 20.5 Z" fill="#c08418" stroke="#9a6410" stroke-width="0.9"/><path d="M49.8 11.6 L51.5 7.4 L58.8 12.2 L55 16.8 L47.8 13.6 Z" fill="url(#gold)"/><path d="M46.5 15 L53.3 19.2 L55 17.2 L47.8 13.8 Z" fill="#f8e4a0"/><path d="M55.6 17.5 L59.8 14.2" stroke="#f0e0b0" stroke-width="1"/></g>
<g shape-rendering="geometricPrecision"><rect x="75" y="5" width="11" height="10" fill="#1aa0f4"/><rect x="75" y="5" width="3.6" height="10" fill="#0a80e0"/><path d="M75.5 5.5 L78.6 7.5 H86" stroke="#e8f6ff" stroke-width="0.8" fill="none"/><path d="M78.6 7.5 V14" stroke="#e8f6ff" stroke-width="0.8"/><rect x="80.2" y="9.4" width="4.6" height="1.3" fill="#d8f0ff"/><path d="M74.3 20.6 C72.4 20.4 72.6 16.6 75.6 16.9 C76 14.6 78.4 13.6 80 14.6 C81 12.7 84.2 12.8 85 14.9 C87.6 14.1 89.6 16.6 88.2 18.6 C89.6 19.6 88.6 20.9 87.4 20.8 Z" fill="url(#cloudg)" stroke="#3a5a9a" stroke-width="0.9"/></g>
<g shape-rendering="geometricPrecision" fill="none"><path d="M108.6 12.6 L108.6 20.3 A7.7 7.7 0 0 0 114.2 7.3 Z" fill="url(#sig)" opacity="0.75"/><circle cx="108.6" cy="12.6" r="7.2" stroke="#5a80d8" stroke-width="1.1" opacity="0.8"/><circle cx="108.6" cy="12.6" r="4.4" stroke="#6a90e0" stroke-width="1.1" opacity="0.7"/><circle cx="108.6" cy="12.4" r="1.8" fill="#2050c8"/><path d="M109.4 12.8 V20.8" stroke="#20a020" stroke-width="1.3"/></g>
<g shape-rendering="geometricPrecision"><path d="M128.5 13.2 L143.9 12 L135.8 20.6 Z" fill="#f8e060" stroke="#c8a020" stroke-width="0.8"/><ellipse cx="136" cy="9.9" rx="7.8" ry="2.3" transform="rotate(-5 136 9.9)" fill="#62b8ea" stroke="#2a80b8" stroke-width="0.8"/><ellipse cx="135.6" cy="7.4" rx="3.4" ry="2.6" fill="#70c0f0" stroke="#2a80b8" stroke-width="0.8"/><circle cx="140.6" cy="16.5" r="4.2" fill="#d41a0a"/><rect x="139.1" y="15" width="3" height="3" fill="#fff"/></g>
<rect x="204" y="0" width="1" height="24" fill="#a0a0a0"/>
<rect x="205" y="0" width="1" height="24" fill="#ffffff"/>
<rect x="208" y="3" width="3" height="1" fill="#9c9c9c"/>
<rect x="208" y="5" width="3" height="1" fill="#9c9c9c"/>
<rect x="208" y="7" width="3" height="1" fill="#9c9c9c"/>
<rect x="208" y="9" width="3" height="1" fill="#9c9c9c"/>
<rect x="208" y="11" width="3" height="1" fill="#9c9c9c"/>
<rect x="208" y="13" width="3" height="1" fill="#9c9c9c"/>
<rect x="208" y="15" width="3" height="1" fill="#9c9c9c"/>
<rect x="208" y="17" width="3" height="1" fill="#9c9c9c"/>
<rect x="208" y="19" width="3" height="1" fill="#9c9c9c"/>
<rect x="208" y="21" width="3" height="1" fill="#9c9c9c"/>
<path d="M222.5 7V20 M220 18.5H233" stroke="#555" stroke-width="1.3" fill="none" shape-rendering="geometricPrecision"/>
<path d="M220.5 9L222.5 6.5L224.5 9Z M231 16.5L234 18.5L231 20.5Z" fill="#555" shape-rendering="geometricPrecision"/>
<path d="M228.5 9.5 H231 M228.5 9 V16.5 M226 16.5 H228.5" stroke="#1a9a1a" stroke-width="1.2" fill="none" shape-rendering="geometricPrecision"/>
<rect x="242" y="1" width="25" height="22" fill="url(#chk)"/>
<rect x="242" y="1" width="25" height="1" fill="#a0a0a0"/>
<rect x="242" y="1" width="1" height="22" fill="#a0a0a0"/>
<rect x="267" y="1" width="1" height="23" fill="#ffffff"/>
<rect x="242" y="23" width="26" height="1" fill="#ffffff"/>
<path d="M250.5 7V20 M248 18.5H261" stroke="#555" stroke-width="1.3" fill="none" shape-rendering="geometricPrecision"/>
<path d="M248.5 9L250.5 6.5L252.5 9Z M259 16.5L262 18.5L259 20.5Z" fill="#555" shape-rendering="geometricPrecision"/>
<rect x="256" y="5" width="1" height="12" fill="#1a9a1a"/>
<rect x="254.5" y="7.5" width="4" height="7.5" fill="#20e020" stroke="#1a8a1a" stroke-width="1" shape-rendering="geometricPrecision"/>
<path d="M278.5 7V20 M276 18.5H289" stroke="#555" stroke-width="1.3" fill="none" shape-rendering="geometricPrecision"/>
<path d="M276.5 9L278.5 6.5L280.5 9Z M287 16.5L290 18.5L287 20.5Z" fill="#555" shape-rendering="geometricPrecision"/>
<path d="M277.5 15.5 Q280 13 283 10.5 Q285 10 288.5 14" stroke="#1a9a1a" stroke-width="1.1" fill="none" shape-rendering="geometricPrecision"/>
<rect x="299" y="2" width="1" height="21" fill="#a0a0a0"/>
<g shape-rendering="geometricPrecision"><path d="M318 15 L323 20" stroke="#b09020" stroke-width="3"/><path d="M318 15 L323 20" stroke="#f0d860" stroke-width="1.5"/><circle cx="314.5" cy="11.5" r="5.5" fill="#d8ecf8" stroke="#3a7ac8" stroke-width="1.2"/><rect x="311.5" y="10.5" width="6" height="2" fill="#4a80b8"/><rect x="313.5" y="8.5" width="2" height="6" fill="#4a80b8"/></g>
<g shape-rendering="geometricPrecision"><path d="M346 15 L351 20" stroke="#b09020" stroke-width="3"/><path d="M346 15 L351 20" stroke="#f0d860" stroke-width="1.5"/><circle cx="342.5" cy="11.5" r="5.5" fill="#d8ecf8" stroke="#3a7ac8" stroke-width="1.2"/><rect x="339.5" y="10.5" width="6" height="2" fill="#4a80b8"/></g>
<rect x="364" y="5" width="8" height="8" fill="#3aa020"/>
<rect x="365" y="8" width="6" height="4" fill="#fff"/>
<rect x="372" y="5" width="8" height="8" fill="#2060d8"/>
<rect x="373" y="8" width="6" height="4" fill="#fff"/>
<rect x="364" y="13" width="8" height="8" fill="#2060d8"/>
<rect x="365" y="16" width="6" height="4" fill="#fff"/>
<rect x="372" y="13" width="8" height="8" fill="#3aa020"/>
<rect x="373" y="16" width="6" height="4" fill="#fff"/>
<rect x="389" y="2" width="1" height="21" fill="#a0a0a0"/>
<rect x="394" y="1" width="25" height="22" fill="url(#chk)"/>
<rect x="394" y="1" width="25" height="1" fill="#a0a0a0"/>
<rect x="394" y="1" width="1" height="22" fill="#a0a0a0"/>
<rect x="419" y="1" width="1" height="23" fill="#ffffff"/>
<rect x="394" y="23" width="26" height="1" fill="#ffffff"/>
<path d="M402.5 7V20 M400 18.5H413" stroke="#555" stroke-width="1.3" fill="none" shape-rendering="geometricPrecision"/>
<path d="M400.5 9L402.5 6.5L404.5 9Z M411 16.5L414 18.5L411 20.5Z" fill="#555" shape-rendering="geometricPrecision"/>
<polygon points="408.5,9 408.5,15 412.5,12" fill="#30c030" stroke="#108010" stroke-width="0.8" shape-rendering="geometricPrecision"/>
<rect x="422" y="1" width="25" height="22" fill="url(#chk)"/>
<rect x="422" y="1" width="25" height="1" fill="#a0a0a0"/>
<rect x="422" y="1" width="1" height="22" fill="#a0a0a0"/>
<rect x="447" y="1" width="1" height="23" fill="#ffffff"/>
<rect x="422" y="23" width="26" height="1" fill="#ffffff"/>
<path d="M430.5 7V20 M428 18.5H441" stroke="#555" stroke-width="1.3" fill="none" shape-rendering="geometricPrecision"/>
<path d="M428.5 9L430.5 6.5L432.5 9Z M439 16.5L442 18.5L439 20.5Z" fill="#555" shape-rendering="geometricPrecision"/>
<rect x="436" y="7" width="1" height="10" fill="#1a6aa0"/>
<polygon points="438,12.5 442,10 442,15" fill="#e05010" shape-rendering="geometricPrecision"/>
<rect x="440" y="12" width="3" height="1" fill="#e05010"/>
<rect x="451" y="2" width="1" height="21" fill="#a0a0a0"/>
<g shape-rendering="geometricPrecision"><path d="M461.5 5.5 H470 L472.5 8 V18.5 H461.5 Z" fill="#f8f8f8" stroke="#707070" stroke-width="1"/><path d="M464 9 Q463 12 464 16" stroke="#404040" stroke-width="0.8" fill="none"/><path d="M465.5 17 H476.5 M471 11.5 V22.5" stroke="#10a010" stroke-width="4.2"/><path d="M466.5 17 H475.5 M471 12.5 V21.5" stroke="#40e840" stroke-width="2.2"/></g>
<polygon points="482.5,12 488.5,12 485.5,15" fill="#000"/>
<g shape-rendering="geometricPrecision"><circle cx="507" cy="13" r="8" fill="#1a6ad0"/><circle cx="507" cy="13" r="5.6" fill="#f4f8fc"/><path d="M507 9 V13 H509.5" stroke="#303030" stroke-width="1" fill="none"/></g>
<polygon points="521.5,12 527.5,12 524.5,15" fill="#000"/>
<g shape-rendering="geometricPrecision"><rect x="538.5" y="6.5" width="15" height="13" fill="#fff" stroke="#2a6ac0" stroke-width="1"/><rect x="539" y="7" width="14" height="2" fill="#5a90d8"/><rect x="539" y="13" width="14" height="1" fill="#2a6ac0"/><path d="M540 12 L542 11.5 L544 10.5 L546 11.5 L548 10.5 L551 10.5" stroke="#a03010" stroke-width="1" fill="none"/><path d="M540 17.5 L542.5 16.5 L544.5 17 L547 15.5 L549 15.5 L551 17.5" stroke="#20a020" stroke-width="1" fill="none"/></g>
<polygon points="560.5,12 566.5,12 563.5,15" fill="#000"/>
<rect x="572" y="0" width="1" height="24" fill="#a0a0a0"/>
<rect x="573" y="0" width="1" height="24" fill="#ffffff"/>
<rect x="576" y="3" width="3" height="1" fill="#9c9c9c"/>
<rect x="576" y="5" width="3" height="1" fill="#9c9c9c"/>
<rect x="576" y="7" width="3" height="1" fill="#9c9c9c"/>
<rect x="576" y="9" width="3" height="1" fill="#9c9c9c"/>
<rect x="576" y="11" width="3" height="1" fill="#9c9c9c"/>
<rect x="576" y="13" width="3" height="1" fill="#9c9c9c"/>
<rect x="576" y="15" width="3" height="1" fill="#9c9c9c"/>
<rect x="576" y="17" width="3" height="1" fill="#9c9c9c"/>
<rect x="576" y="19" width="3" height="1" fill="#9c9c9c"/>
<rect x="576" y="21" width="3" height="1" fill="#9c9c9c"/>
<rect x="582" y="1" width="25" height="22" fill="url(#chk)"/>
<rect x="582" y="1" width="25" height="1" fill="#a0a0a0"/>
<rect x="582" y="1" width="1" height="22" fill="#a0a0a0"/>
<rect x="607" y="1" width="1" height="23" fill="#ffffff"/>
<rect x="582" y="23" width="26" height="1" fill="#ffffff"/>
<path d="M590 5.8 L590 17 L592.7 14.5 L594.5 19.6 L596.7 19 L595 14 L598 13.6 Z" fill="#4a4a4a" shape-rendering="geometricPrecision"/>
<rect x="615" y="13" width="6" height="1" fill="#505050"/>
<rect x="623" y="13" width="7" height="1" fill="#505050"/>
<rect x="622" y="6" width="1" height="6" fill="#505050"/>
<rect x="622" y="15" width="1" height="6" fill="#505050"/>
<rect x="639" y="2" width="1" height="21" fill="#a0a0a0"/>
<rect x="656" y="7" width="1" height="13" fill="#505050"/>
<rect x="679" y="13" width="12" height="1" fill="#505050"/>
<path d="M707 20 L719 8" stroke="#505050" stroke-width="1.1" shape-rendering="geometricPrecision"/>
<g shape-rendering="geometricPrecision" stroke="#505050" stroke-width="1" fill="none"><path d="M733 14 L740 7"/><path d="M734 19 L744 9"/><path d="M738 20 L746 12"/><path d="M736 11 V18 M739 9 V18 M742 7 V14"/></g>
<text transform="translate(743,22) scale(1,1)" font-size="7" fill="#404040" stroke="#404040" stroke-width="0.15" xml:space="preserve" font-weight="bold">E</text>
<path d="M762 6.5 H775" stroke="#505050" stroke-width="1" stroke-dasharray="1,1"/>
<path d="M762 9.5 H775" stroke="#505050" stroke-width="1" stroke-dasharray="1,1"/>
<path d="M762 13.5 H775" stroke="#505050" stroke-width="1" stroke-dasharray="1,1"/>
<path d="M762 17.5 H770" stroke="#505050" stroke-width="1" stroke-dasharray="1,1"/>
<text transform="translate(771,22) scale(1,1)" font-size="7" fill="#404040" stroke="#404040" stroke-width="0.15" xml:space="preserve" font-weight="bold">F</text>
<text transform="translate(792.5,18) scale(0.8,1)" font-size="12.5" fill="#505050" stroke="#505050" stroke-width="0.5" xml:space="preserve" >A</text>
<rect x="818.5" y="7.5" width="12" height="12" fill="none" stroke="#505050" stroke-dasharray="1,1"/>
<rect x="819" y="6" width="2" height="2" fill="#505050"/>
<rect x="821" y="10" width="7" height="2" fill="#505050"/>
<rect x="823.5" y="10" width="2" height="7" fill="#505050"/>
<g shape-rendering="geometricPrecision" fill="#505050"><polygon points="846,10 849.5,7 853,10 849.5,12.5"/><polygon points="853,17 856.5,14.5 860,17 856.5,20"/><path d="M848.5 14 L850.5 16 L855 11.5" stroke="#505050" stroke-width="1.3" fill="none"/></g>
<polygon points="866.5,12 872.5,12 869.5,15" fill="#000"/>
<rect x="878" y="0" width="1" height="24" fill="#a0a0a0"/>
<rect x="879" y="0" width="1" height="24" fill="#ffffff"/>
<rect x="882" y="3" width="3" height="1" fill="#9c9c9c"/>
<rect x="882" y="5" width="3" height="1" fill="#9c9c9c"/>
<rect x="882" y="7" width="3" height="1" fill="#9c9c9c"/>
<rect x="882" y="9" width="3" height="1" fill="#9c9c9c"/>
<rect x="882" y="11" width="3" height="1" fill="#9c9c9c"/>
<rect x="882" y="13" width="3" height="1" fill="#9c9c9c"/>
<rect x="882" y="15" width="3" height="1" fill="#9c9c9c"/>
<rect x="882" y="17" width="3" height="1" fill="#9c9c9c"/>
<rect x="882" y="19" width="3" height="1" fill="#9c9c9c"/>
<rect x="882" y="21" width="3" height="1" fill="#9c9c9c"/>
<text transform="translate(894,17) scale(0.92,1)" font-size="10" fill="#3a3a3a" stroke="#3a3a3a" stroke-width="0.15" xml:space="preserve" >M1</text>
<text transform="translate(922,17) scale(0.92,1)" font-size="10" fill="#3a3a3a" stroke="#3a3a3a" stroke-width="0.15" xml:space="preserve" >M5</text>
<text transform="translate(948,17) scale(0.92,1)" font-size="10" fill="#3a3a3a" stroke="#3a3a3a" stroke-width="0.15" xml:space="preserve" >M15</text>
<text transform="translate(976,17) scale(0.92,1)" font-size="10" fill="#3a3a3a" stroke="#3a3a3a" stroke-width="0.15" xml:space="preserve" >M30</text>
<text transform="translate(1006,17) scale(0.92,1)" font-size="10" fill="#3a3a3a" stroke="#3a3a3a" stroke-width="0.15" xml:space="preserve" >H1</text>
<text transform="translate(1062.5,17) scale(0.92,1)" font-size="10" fill="#3a3a3a" stroke="#3a3a3a" stroke-width="0.15" xml:space="preserve" >D1</text>
<text transform="translate(1090,17) scale(0.92,1)" font-size="10" fill="#3a3a3a" stroke="#3a3a3a" stroke-width="0.15" xml:space="preserve" >W1</text>
<rect x="1028" y="1" width="25" height="22" fill="url(#chk)"/>
<rect x="1028" y="1" width="25" height="1" fill="#a0a0a0"/>
<rect x="1028" y="1" width="1" height="22" fill="#a0a0a0"/>
<rect x="1053" y="1" width="1" height="23" fill="#ffffff"/>
<rect x="1028" y="23" width="26" height="1" fill="#ffffff"/>
<text transform="translate(1034,17) scale(0.92,1)" font-size="10" fill="#3a3a3a" stroke="#3a3a3a" stroke-width="0.15" xml:space="preserve" >H4</text>
<rect x="1113" y="22" width="24" height="1" fill="#ffffff"/>
<rect x="1136" y="2" width="1" height="21" fill="#ffffff"/>
<rect x="1112" y="1" width="25" height="1" fill="#ffffff"/>
<rect x="1112" y="1" width="1" height="22" fill="#ffffff"/>
<rect x="1137" y="1" width="1" height="23" fill="#a0a0a0"/>
<rect x="1112" y="23" width="26" height="1" fill="#a0a0a0"/>
<text transform="translate(1116.5,16) scale(0.92,1)" font-size="10" fill="#000" stroke="#000" stroke-width="0.15" xml:space="preserve" >MN</text>
<rect x="1139" y="0" width="1" height="24" fill="#a0a0a0"/>
<rect x="1140" y="0" width="1" height="24" fill="#ffffff"/>
<g shape-rendering="geometricPrecision"><circle cx="1609.5" cy="10.3" r="3.9" fill="#f4f6ff" stroke="#2060d0" stroke-width="1.3"/><path d="M1606.5 13.5 L1602.8 17.3" stroke="#2060d0" stroke-width="2.2"/></g>
<g shape-rendering="geometricPrecision"><path d="M1629 11 Q1633 9 1637 11 Q1640 14.5 1636.5 18 L1631 18.5 L1629.5 21 L1630 18 Q1626 15 1629 11Z" fill="#e4e6ee" stroke="#a8a8b0" stroke-width="0.8"/><circle cx="1640.5" cy="10.2" r="8.2" fill="#e03318"/></g>
<path d="M1638.5 7 L1640.8 5.8 V14 M1638.5 14.3 H1643" stroke="#fff" stroke-width="1.3" fill="none" shape-rendering="geometricPrecision"/>
</svg>
</body></html>
